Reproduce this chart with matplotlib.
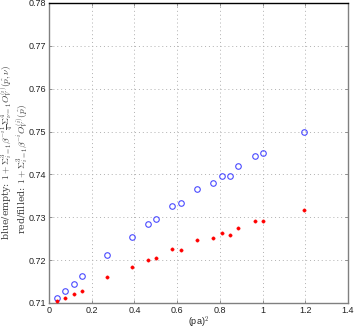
import matplotlib
matplotlib.use("Agg")
import matplotlib.pyplot as plt

plt.rcParams['mathtext.fontset'] = 'cm'

x_vals = [0.039, 0.075, 0.116, 0.153, 0.270, 0.387, 0.462, 0.500, 0.576, 0.617,
          0.693, 0.770, 0.809, 0.848, 0.887, 0.963, 1.001, 1.194]
blue_vals = [0.7112, 0.7129, 0.7145, 0.7162, 0.7212, 0.7255, 0.7284, 0.7297, 0.7327, 0.7333,
             0.7365, 0.7381, 0.7397, 0.7397, 0.7419, 0.7444, 0.7450, 0.7499]
red_vals = [0.7105, 0.7112, 0.7121, 0.7129, 0.7161, 0.7183, 0.7201, 0.7205, 0.7225, 0.7223,
            0.7246, 0.7252, 0.7264, 0.7258, 0.7274, 0.7292, 0.7292, 0.7316]
xticks = [0, 0.2, 0.4, 0.6, 0.8, 1, 1.2, 1.4]
xtick_labels = ['0', '0.2', '0.4', '0.6', '0.8', '1', '1.2', '1.4']
yticks = [0.71, 0.72, 0.73, 0.74, 0.75, 0.76, 0.77, 0.78]
ytick_labels = ['0.71', '0.72', '0.73', '0.74', '0.75', '0.76', '0.77', '0.78']
ylabel_blue = "blue/empty: $1+\\Sigma_{i=1}^{3}\\beta^{-i}\\frac{1}{4}\\Sigma_{\\nu=1}^{4}O_V^{(i)}(\\hat{p},\\nu)$"
ylabel_red = "red/filled: $1+\\Sigma_{i=1}^{3}\\beta^{-i}O_V^{(i)}(\\hat{p})$"

fig = plt.figure(figsize=(3.54, 3.29), dpi=100)
ax = fig.add_axes([49/354, 1 - 303/329, (348-49)/354, (303-3)/329])

ax.plot(x_vals, blue_vals, linestyle='none', marker='o', markersize=4,
        markerfacecolor='none', markeredgecolor='#4a4aff', markeredgewidth=0.8, zorder=3)
ax.plot(x_vals, red_vals, linestyle='none', marker='o', markersize=2.4,
        markerfacecolor='#ff0000', markeredgecolor='#ff0000', markeredgewidth=0.3, zorder=4)

ax.set_xlim(0, 1.4)
ax.set_ylim(0.71, 0.78)
ax.set_xticks(xticks)
ax.set_xticklabels(xtick_labels)
ax.set_yticks(yticks)
ax.set_yticklabels(ytick_labels)

ax.grid(True, linestyle=(0, (1, 3)), color='#b0b0b0', linewidth=0.7)
for s in ['left', 'bottom', 'right']:
    ax.spines[s].set_color('#808080')
    ax.spines[s].set_linewidth(1.0)
ax.spines['top'].set_color('black')
ax.spines['top'].set_linewidth(1.0)

ax.tick_params(axis='both', direction='in', length=2, width=0.6, color='#808080',
               labelsize=6.5, pad=2, top=True, right=True)
for lab in ax.get_xticklabels() + ax.get_yticklabels():
    lab.set_family('Liberation Sans')
    lab.set_color('#222222')

ax.set_xlabel(r'(pa)$^2$', fontsize=6.5, family='Liberation Sans', labelpad=0, color='#222222')
fig.text(7/354, 1 - 240/329, ylabel_blue, rotation=90, ha='center', va='bottom',
         fontsize=6.8, family='serif', color='#444444')
fig.text(22/354, 1 - 234/329, ylabel_red, rotation=90, ha='center', va='bottom',
         fontsize=6.8, family='serif', color='#444444')

fig.savefig('out.png', dpi=100)
